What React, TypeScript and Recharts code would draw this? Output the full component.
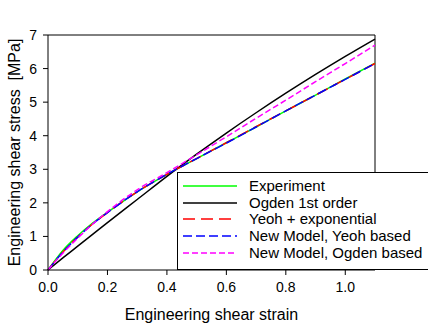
import { LineChart, Line, XAxis, YAxis, ReferenceLine, Label } from "recharts";

const FONT = "'Liberation Sans', Arial, sans-serif";

// shear strain values
const strain = [0, 0.05, 0.1, 0.15, 0.2, 0.3, 0.4, 0.5, 0.6, 0.7, 0.8, 0.9, 1.0, 1.1];

// stress [MPa] per series
const experiment = [0, 0.58, 1.02, 1.4, 1.72, 2.33, 2.85, 3.32, 3.79, 4.26, 4.74, 5.21, 5.69, 6.16];
const ogden = [0, 0.36, 0.71, 1.06, 1.41, 2.1, 2.79, 3.45, 4.08, 4.684, 5.266, 5.826, 6.364, 6.88];
const yeohExp = [0, 0.53, 0.98, 1.37, 1.71, 2.33, 2.85, 3.32, 3.79, 4.27, 4.74, 5.21, 5.68, 6.15];
const newYeoh = [0, 0.53, 0.98, 1.37, 1.71, 2.33, 2.85, 3.32, 3.78, 4.26, 4.74, 5.21, 5.68, 6.15];
const newOgden = [0, 0.5, 0.95, 1.37, 1.74, 2.39, 2.9, 3.43, 3.97, 4.52, 5.06, 5.61, 6.15, 6.7];

const xTicks = [0, 0.2, 0.4, 0.6, 0.8, 1.0];
const yTicks = [0, 1, 2, 3, 4, 5, 6, 7];

const series = [
  { key: "experiment", name: "Experiment", color: "#00ff00", dash: undefined },
  { key: "ogden", name: "Ogden 1st order", color: "#000000", dash: undefined },
  { key: "yeohExp", name: "Yeoh + exponential", color: "#ff0000", dash: "12 6" },
  { key: "newYeoh", name: "New Model, Yeoh based", color: "#0000ff", dash: "9 4" },
  { key: "newOgden", name: "New Model, Ogden based", color: "#ff00ff", dash: "6 3" },
];

const data = strain.map((s, i) => ({
  strain: s,
  experiment: experiment[i],
  ogden: ogden[i],
  yeohExp: yeohExp[i],
  newYeoh: newYeoh[i],
  newOgden: newOgden[i],
}));

export default function App() {
  return (
    <div style={{ position: "absolute", left: 0, top: 0, width: 428, height: 327, background: "#fff" }}>
      <LineChart
        width={428}
        height={327}
        data={data}
        margin={{ top: 35, right: 53, left: 0, bottom: 0 }}
      >
        <XAxis
          dataKey="strain"
          type="number"
          domain={[0, 1.1]}
          ticks={xTicks}
          tickFormatter={(v: number) => v.toFixed(1)}
          stroke="#000"
          tick={{ fill: "#000", fontSize: 14, fontFamily: FONT }}
          tickSize={5}
          tickMargin={7}
          height={57}
        >
          <Label
            value="Engineering shear strain"
            position="insideBottom"
            offset={7}
            style={{ fontSize: 16, fontFamily: FONT, fill: "#000" }}
          />
        </XAxis>
        <YAxis
          type="number"
          domain={[0, 7]}
          ticks={yTicks}
          stroke="#000"
          tick={{ fill: "#000", fontSize: 14, fontFamily: FONT }}
          tickSize={5}
          tickMargin={6}
          width={48}
        >
          <Label
            value={"Engineering shear stress\u00a0 [MPa]"}
            angle={-90}
            position="insideLeft"
            offset={14}
            style={{ fontSize: 16, fontFamily: FONT, fill: "#000", textAnchor: "middle" }}
          />
        </YAxis>
        <ReferenceLine y={7} stroke="#000" />
        <ReferenceLine x={1.1} stroke="#000" />
        {series.map((s) => (
          <Line
            key={s.key}
            dataKey={s.key}
            type="monotone"
            stroke={s.color}
            strokeWidth={1.5}
            strokeDasharray={s.dash}
            dot={false}
            isAnimationActive={false}
          />
        ))}
      </LineChart>

      {/* legend box */}
      <div
        style={{
          position: "absolute",
          left: 177,
          top: 172,
          width: 247,
          height: 91,
          border: "1px solid #000",
          background: "#fff",
          padding: "5px 0 0 5px",
          boxSizing: "content-box",
          fontFamily: FONT,
          fontSize: 15,
        }}
      >
        {series.map((s) => (
          <div key={s.key} style={{ display: "flex", alignItems: "center", height: 16.6 }}>
            <svg width={54} height={4} style={{ marginRight: 12 }}>
              <line x1={0} y1={2} x2={54} y2={2} stroke={s.color} strokeWidth={1.5} strokeDasharray={s.dash} />
            </svg>
            <span style={{ whiteSpace: "nowrap", lineHeight: "16px" }}>{s.name}</span>
          </div>
        ))}
      </div>
    </div>
  );
}
